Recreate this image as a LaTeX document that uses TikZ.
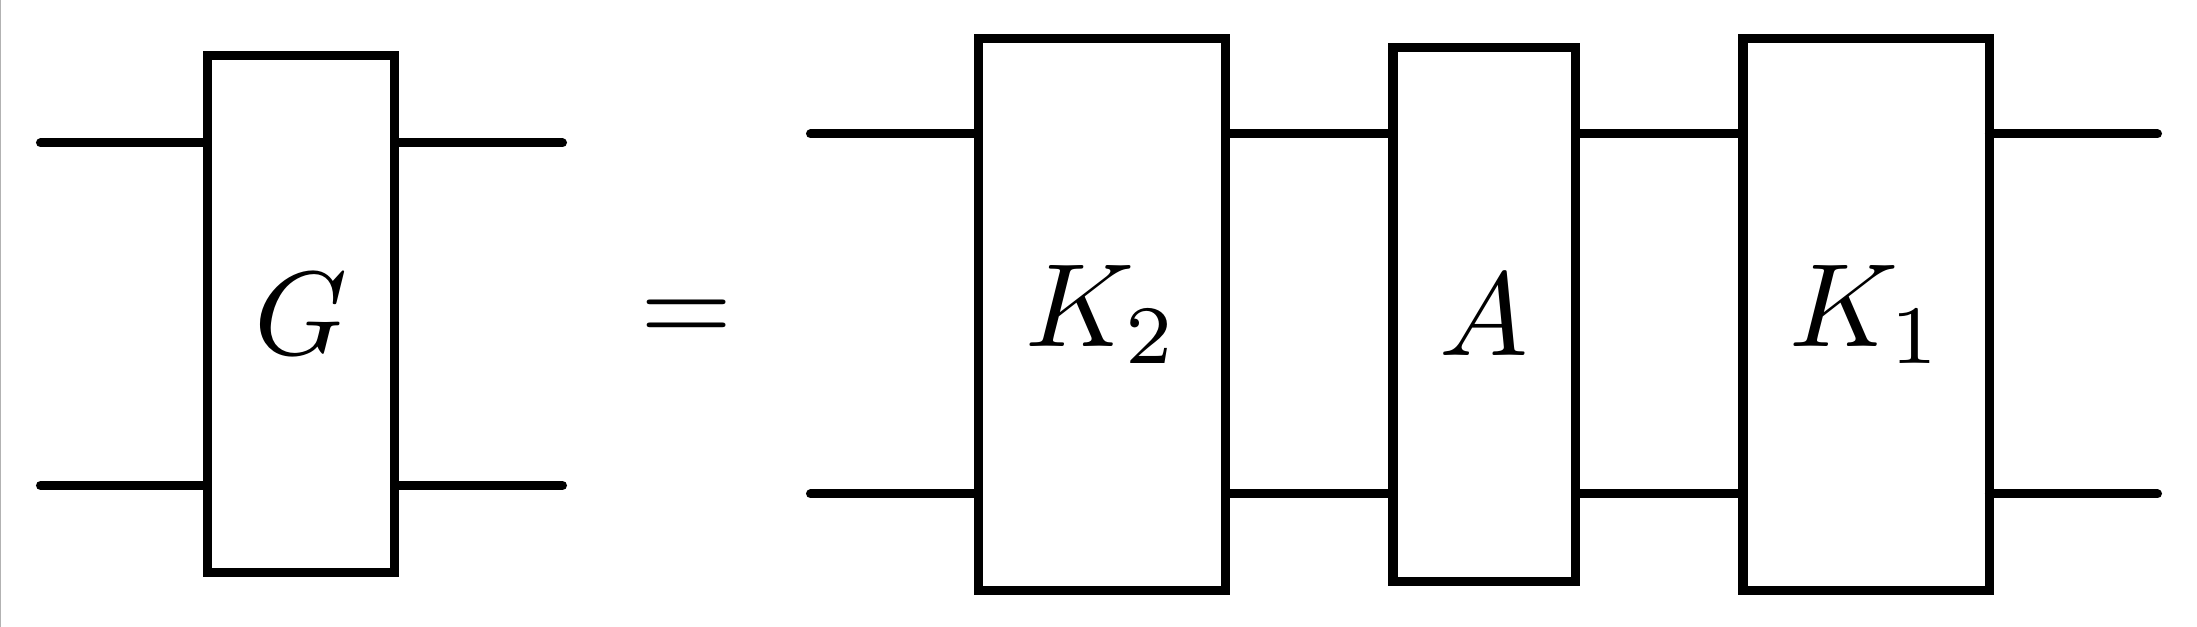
\documentclass[tikz,border=0pt]{standalone}
\begin{document}
\begin{tikzpicture}[x=0.08432pt, y=-0.08432pt,
  gate/.style={draw, line width=0.8pt, inner sep=0pt, outer sep=0pt},
  wire/.style={line width=0.76pt, line cap=round},
  edgeline/.style={draw=black!30, line width=0.1pt}]
\useasboundingbox (0,0) rectangle (2197,627);
\draw[edgeline] (0.6,0) -- (0.6,627);
% left side
\node[gate, minimum width=15.77pt, minimum height=43.59pt] (G) at (301,314) {$G$};
\coordinate (l1) at (40.5,143);
\coordinate (l2) at (40.5,485.5);
\coordinate (l3) at (562.5,143);
\coordinate (l4) at (562.5,485.5);
\draw[wire] (l1) -- (l1 -| G.west);
\draw[wire] (l2) -- (l2 -| G.west);
\draw[wire] (l3 -| G.east) -- (l3);
\draw[wire] (l4 -| G.east) -- (l4);
% equals
\node[anchor=base, inner sep=0pt] (eq) at (687,344) {$=$};
% right side
\node[gate, minimum width=20.83pt, minimum height=46.54pt] (K2) at (1102,314.5) {$K_2$};
\node[gate, minimum width=15.39pt, minimum height=45.03pt] (A) at (1484.25,314.5) {$A$};
\node[gate, minimum width=20.78pt, minimum height=46.54pt] (K1) at (1866.25,314.5) {$K_1$};
\coordinate (r1) at (810.5,134);
\coordinate (r2) at (810.5,494);
\coordinate (r3) at (2157.5,134);
\coordinate (r4) at (2157.5,494);
\draw[wire] (r1) -- (r1 -| K2.west);
\draw[wire] (r2) -- (r2 -| K2.west);
\draw[wire] (r1 -| K2.east) -- (r1 -| A.west);
\draw[wire] (r2 -| K2.east) -- (r2 -| A.west);
\draw[wire] (r1 -| A.east) -- (r1 -| K1.west);
\draw[wire] (r2 -| A.east) -- (r2 -| K1.west);
\draw[wire] (r3 -| K1.east) -- (r3);
\draw[wire] (r4 -| K1.east) -- (r4);
\end{tikzpicture}
\end{document}
